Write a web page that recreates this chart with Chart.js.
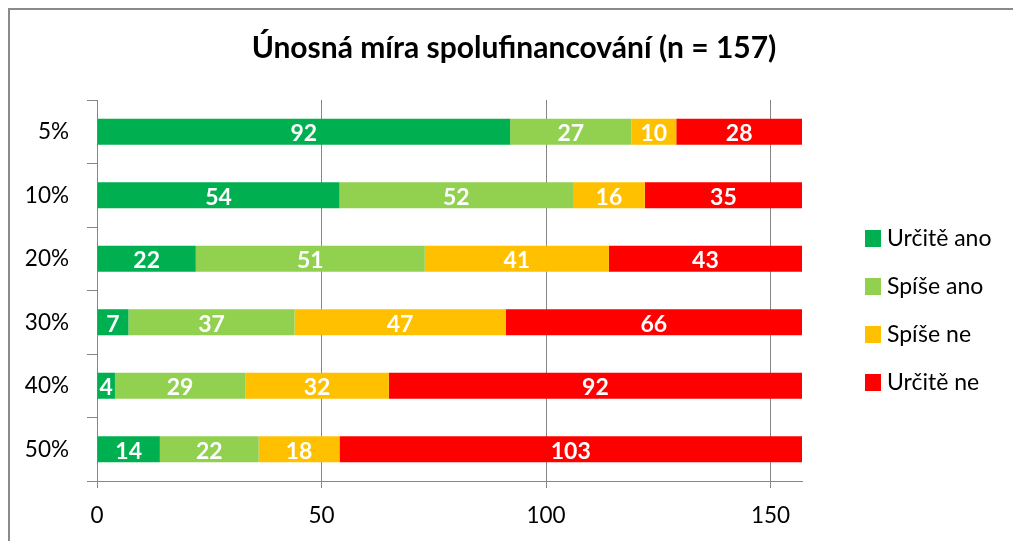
<!DOCTYPE html>
<html>
<head>
<meta charset="utf-8">
<script src="https://cdn.jsdelivr.net/npm/chart.js@4"></script>
<style>
html,body{margin:0;padding:0;background:#fff;overflow:hidden;}
#wrap{position:absolute;left:0;top:0;width:1013px;height:541px;}
</style>
</head>
<body>
<div id="wrap"><canvas id="c" width="1013" height="541" style="width:1013px;height:541px"></canvas></div>
<script>
const categories = ['5%', '10%', '20%', '30%', '40%', '50%'];
const seriesNames = ['Určitě ano', 'Spíše ano', 'Spíše ne', 'Určitě ne'];
const urciteAno = [92, 54, 22, 7, 4, 14];
const spiseAno = [27, 52, 51, 37, 29, 22];
const spiseNe = [10, 16, 41, 47, 32, 18];
const urciteNe = [28, 35, 43, 66, 92, 103];
const xTicks = [0, 50, 100, 150];
const xMax = 157;
const titleText = 'Únosná míra spolufinancování (n = 157)';

const colors = ['#00B050', '#92D050', '#FFC000', '#FF0000'];
const FONT = 'Lato, "Open Sans", sans-serif';
const GRID = '#868686';

const seriesValues = [urciteAno, spiseAno, spiseNe, urciteNe];

const frame = {
  id: 'frame',
  beforeDraw(chart) {
    const c = chart.ctx;
    c.save();
    c.fillStyle = '#fff';
    c.fillRect(0, 0, chart.width, chart.height);
    c.strokeStyle = '#8a8a8a';
    c.lineWidth = 2;
    c.beginPath();
    c.moveTo(9, chart.height + 5);
    c.lineTo(9, 9);
    c.lineTo(chart.width + 5, 9);
    c.stroke();
    c.fillStyle = '#000';
    c.font = 'bold 30px ' + FONT;
    c.textAlign = 'center';
    c.textBaseline = 'middle';
    c.fillText(titleText, 514, 48);
    c.restore();
  }
};

const dataLabels = {
  id: 'dataLabels',
  afterDatasetsDraw(chart) {
    const c = chart.ctx;
    c.save();
    c.font = 'bold 23px ' + FONT;
    c.fillStyle = '#fff';
    c.textAlign = 'center';
    c.textBaseline = 'middle';
    chart.data.datasets.forEach((ds, di) => {
      const meta = chart.getDatasetMeta(di);
      meta.data.forEach((el, i) => {
        const p = el.getProps(['x', 'y', 'base'], true);
        c.fillText(String(ds.data[i]), (p.x + p.base) / 2, p.y + 2);
      });
    });
    c.restore();
  }
};

const sideLegend = {
  id: 'sideLegend',
  afterDraw(chart) {
    const c = chart.ctx;
    c.save();
    c.font = '23px ' + FONT;
    c.textAlign = 'left';
    c.textBaseline = 'middle';
    chart.data.datasets.forEach((ds, i) => {
      const cy = 238 + i * 48;
      c.fillStyle = ds.backgroundColor;
      c.fillRect(865, cy - 8, 16, 17);
      c.fillStyle = '#000';
      c.fillText(ds.label, 887, cy + 1);
    });
    c.restore();
  }
};

new Chart(document.getElementById('c'), {
  type: 'bar',
  data: {
    labels: categories,
    datasets: seriesNames.map((name, i) => ({
      label: name,
      data: seriesValues[i],
      backgroundColor: colors[i],
      borderWidth: 0,
      barPercentage: 0.41,
      categoryPercentage: 1.0
    }))
  },
  options: {
    indexAxis: 'y',
    responsive: false,
    animation: false,
    devicePixelRatio: 1,
    layout: { padding: { left: 0, right: 211, top: 100, bottom: 0 } },
    plugins: {
      legend: { display: false },
      tooltip: { enabled: false },
      title: { display: false }
    },
    scales: {
      x: {
        stacked: true,
        min: 0,
        max: xMax,
        afterBuildTicks(scale) { scale.ticks = xTicks.map(v => ({ value: v })); },
        afterFit(scale) { scale.height = 60; },
        grid: { color: GRID, lineWidth: 1, tickLength: 7, drawOnChartArea: true },
        border: { display: true, color: GRID, width: 1 },
        ticks: { color: '#000', font: { family: FONT, size: 22.5 }, padding: 14 }
      },
      y: {
        stacked: true,
        afterFit(scale) { scale.width = 97; },
        grid: { drawOnChartArea: false, color: GRID, tickLength: 10, offset: true },
        border: { display: true, color: GRID, width: 1 },
        ticks: { color: '#000', font: { family: FONT, size: 22.5 }, padding: 18 }
      }
    }
  },
  plugins: [frame, dataLabels, sideLegend]
});
</script>
</body>
</html>
